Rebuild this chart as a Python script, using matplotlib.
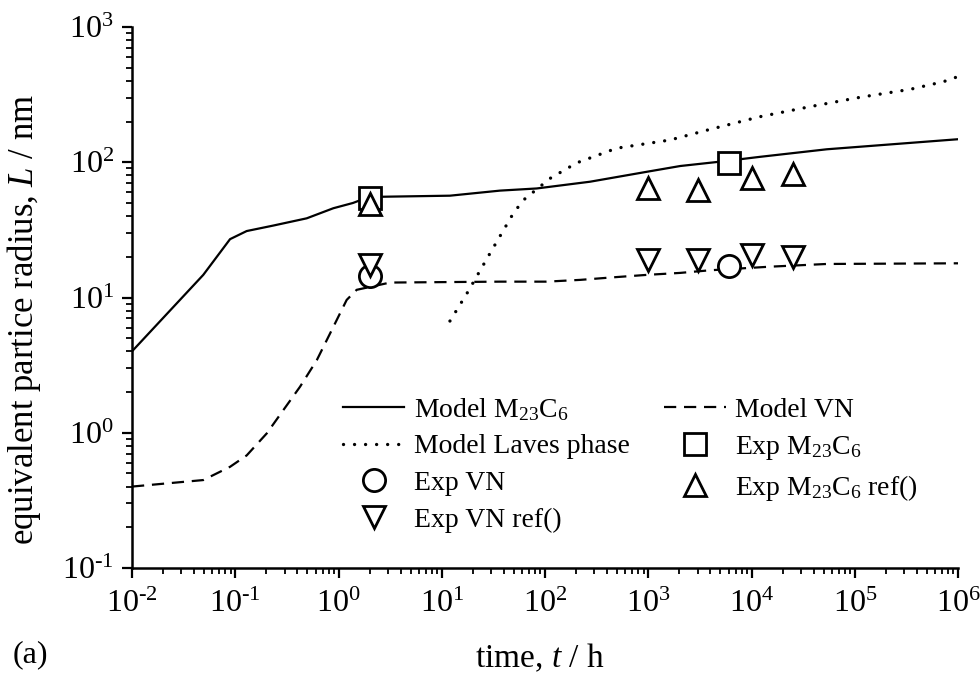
import numpy as np
import matplotlib
matplotlib.use("Agg")
from matplotlib import pyplot as plt
from matplotlib.ticker import LogLocator, FuncFormatter, NullFormatter

plt.rcParams['font.family'] = ['Liberation Serif', 'DejaVu Serif']
plt.rcParams['mathtext.fontset'] = 'custom'
plt.rcParams['mathtext.rm'] = 'Liberation Serif'
plt.rcParams['mathtext.it'] = 'Liberation Serif:italic'

# model curves
t_m23 = [0.01, 0.049, 0.089, 0.129, 0.232, 0.492, 0.89, 1.38, 1.86, 2.7, 12, 36.6, 83,
         273, 966, 2040, 4950, 12000, 53500, 1e6]
L_m23 = [4.0, 14.7, 27, 31, 34, 38.5, 45.7, 50, 54.5, 55.6, 56.6, 61.7, 64,
         71.8, 85, 93.8, 101, 109.6, 124.7, 148]

t_vn = [0.01, 0.049, 0.089, 0.129, 0.202, 0.292, 0.424, 0.617, 0.826, 1.2, 1.5, 3.16,
        36.6, 103, 219, 457, 966, 2030, 3980, 15100, 53500, 1e6]
L_vn = [0.40, 0.447, 0.56, 0.68, 0.99, 1.47, 2.19, 3.45, 5.4, 9.6, 11.4, 12.9,
        13.1, 13.1, 13.5, 14.1, 14.7, 15.2, 15.9, 16.9, 17.7, 17.9]

t_laves = [12, 17.5, 29.3, 49.3, 61.7, 112, 203, 494, 1620, 3960, 12000, 37200,
           112000, 343000, 721000, 1e6]
L_laves = [6.7, 10.7, 21.2, 41.9, 52.5, 76, 99, 127, 146, 175, 217, 258,
           302, 346, 394, 430]

# experimental points
t_exp_m23 = [2, 6000]
L_exp_m23 = [54, 99]
t_exp_vn = [2, 6000]
L_exp_vn = [14.5, 17]
t_ref_m23 = [2, 1000, 3000, 10000, 25000]
L_ref_m23 = [49, 64, 62, 77, 82]
t_ref_vn = [2, 1000, 3000, 10000, 25000]
L_ref_vn = [17.4, 19, 19, 20.6, 20]

fig = plt.figure(figsize=(9.8, 6.75), dpi=100)
ax = fig.add_axes([0.1347, 0.1585, 0.8429, 0.8015])

l1, = ax.plot(t_m23, L_m23, color='black', lw=1.6, label='Model M$_{23}$C$_{6}$')
l2, = ax.plot(t_vn, L_vn, color='black', lw=1.6, linestyle=(0, (5.5, 3.5)), label='Model VN')
l3, = ax.plot(t_laves, L_laves, color='black', lw=2.4, linestyle=(0, (0.01, 3.3)),
              dash_capstyle='round', label='Model Laves phase')

mk = dict(linestyle='none', markerfacecolor='white', markeredgecolor='black',
          markeredgewidth=2, markersize=16)
p1, = ax.plot(t_exp_m23, L_exp_m23, marker='s', label='Exp M$_{23}$C$_{6}$', **mk)
p2, = ax.plot(t_exp_vn, L_exp_vn, marker='o', label='Exp VN', **mk)
p3, = ax.plot(t_ref_m23, L_ref_m23, marker='^', label='Exp M$_{23}$C$_{6}$ ref()', **mk)
p4, = ax.plot(t_ref_vn, L_ref_vn, marker='v', label='Exp VN ref()', **mk)

ax.set_xscale('log')
ax.set_yscale('log')
ax.set_xlim(1e-2, 1e6)
ax.set_ylim(1e-1, 1e3)

def pow10(v, pos):
    return '10$^{\\text{%d}}$' % int(round(np.log10(v)))

for a in (ax.xaxis, ax.yaxis):
    a.set_major_locator(LogLocator(base=10, numticks=20))
    a.set_minor_locator(LogLocator(base=10, subs=np.arange(2, 10), numticks=20))
    a.set_major_formatter(FuncFormatter(pow10))
    a.set_minor_formatter(NullFormatter())

ax.spines['top'].set_visible(False)
ax.spines['right'].set_visible(False)
ax.spines['left'].set_linewidth(1.8)
ax.spines['bottom'].set_linewidth(1.8)
ax.tick_params(which='major', direction='out', length=7, width=1.6, labelsize=23)
ax.tick_params(axis='x', which='major', pad=9)
ax.tick_params(axis='y', which='major', pad=6)
ax.tick_params(which='minor', direction='out', length=4, width=1.3)

ax.set_xlabel('time, $t$ / h', fontsize=24)
ax.xaxis.set_label_coords(0.4935, -0.137)
ax.set_ylabel('equivalent partice radius, $L$ / nm', fontsize=25)
ax.yaxis.set_label_coords(-0.108, 0.46)
fig.text(0.013, 0.03, '(a)', fontsize=23, va='center')

handles = [l1, l3, p2, p4, l2, p1, p3]
ax.legend(handles=handles, ncol=2, loc='upper left', bbox_to_anchor=(0.2555, 0.318),
          frameon=False, fontsize=20, handlelength=2.2, handletextpad=0.35,
          columnspacing=1.25, labelspacing=0.4, borderpad=0, borderaxespad=0)

fig.savefig('out.png', dpi=100)
